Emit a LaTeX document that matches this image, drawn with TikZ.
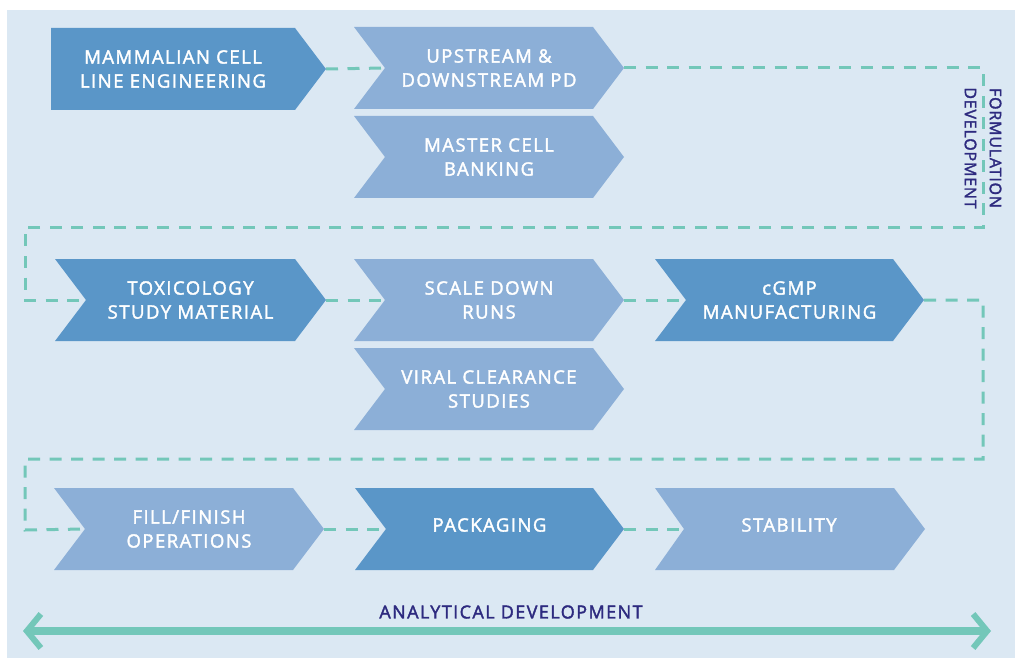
\documentclass[tikz,border=0pt]{standalone}
\usepackage{fontspec}
\setmainfont{Open Sans}
\newfontfamily\boxfont{Open Sans}[LetterSpace=8, FakeBold=2]
\newfontfamily\sidefont{Open Sans}[LetterSpace=5, FakeBold=2]
\usetikzlibrary{calc,arrows.meta}
\definecolor{bgblue}{HTML}{DBE8F3}
\definecolor{darkbox}{HTML}{5A96C8}
\definecolor{lightbox}{HTML}{8CAFD7}
\definecolor{teal}{HTML}{73C7B9}
\definecolor{indigo}{HTML}{2D2A7F}
\tikzset{
  darkfill/.style={fill=darkbox},
  lightfill/.style={fill=lightbox},
  boxtext/.style={text=white, align=center, inner sep=0pt, font=\boxfont\fontsize{18.5}{24}\selectfont},
  oneline/.style={yshift=4pt},
  twoline/.style={},
  labeltext/.style={text=indigo, align=center, inner sep=0pt, font=\boxfont\fontsize{18}{25}\selectfont},
  sidetext/.style={text=indigo, align=center, inner sep=0pt, font=\sidefont\fontsize{16}{25}\selectfont},
  flow/.style={draw=teal, line width=3pt, dash pattern=on 12pt off 9.5pt},
  bigarrow/.style={draw=teal, line width=8pt, {Straight Barb[length=14pt,width=34pt,line width=6pt]}-{Straight Barb[length=14pt,width=34pt,line width=6pt]}}
}
\newcommand\chevbox[8]{%
  \fill[#6] (#2,#3) -- ++(#5,0) -- ++(31,41) -- ++(-31,41) -- ++(-#5,0) -- ++(#4,-41) -- cycle;
  \coordinate (#1-tip) at ($(#2,#3)+(#5+31,41)$);
  \coordinate (#1-notch) at ($(#2,#3)+(#4,41)$);
  \node[boxtext,#8] (#1) at ($(#2,#3)+({(#4+#5)/2},41)$) {#7};
}
\begin{document}
\begin{tikzpicture}[x=1pt,y=-1pt]
\useasboundingbox (0,0) rectangle (1021,658);
\fill[bgblue] (7,10) rectangle (1015,658);

% boxes
\chevbox{mam}{51}{28}{0}{244}{darkfill}{MAMMALIAN CELL\\LINE ENGINEERING}{twoline}
\chevbox{ups}{354}{27}{31}{239}{lightfill}{UPSTREAM \&\\DOWNSTREAM PD}{twoline}
\chevbox{mcb}{354}{116}{31}{239}{lightfill}{MASTER CELL\\BANKING}{twoline}
\chevbox{tox}{55}{259}{31}{240}{darkfill}{TOXICOLOGY\\STUDY MATERIAL}{twoline}
\chevbox{sdr}{354}{259}{31}{239}{lightfill}{SCALE DOWN\\RUNS}{twoline}
\chevbox{vcs}{354}{348}{31}{239}{lightfill}{VIRAL CLEARANCE\\STUDIES}{twoline}
\chevbox{cgmp}{655}{259}{31}{238}{darkfill}{cGMP\\MANUFACTURING}{twoline}
\chevbox{fill}{54}{488}{31}{239}{lightfill}{FILL/FINISH\\OPERATIONS}{twoline}
\chevbox{pkg}{355}{488}{31}{238}{darkfill}{PACKAGING}{oneline}
\chevbox{stab}{655}{488}{29}{239}{lightfill}{STABILITY}{oneline}

% corner coordinates for the dashed route
\coordinate (r1) at (983,68);
\coordinate (r2) at (983,228);
\coordinate (r3) at (25,228);
\coordinate (r4) at (25,300);
\coordinate (s1) at (983,300);
\coordinate (s2) at (983,459);
\coordinate (s3) at (25,459);
\coordinate (s4) at (25,530);

% dashed flow
\draw[flow] (mam-tip) -- (ups-notch);
\draw[flow] (ups-tip) -- (r1) -- (r2) -- (r3) -- (r4) -- (tox-notch);
\draw[flow] (tox-tip) -- (sdr-notch);
\draw[flow] (sdr-tip) -- (cgmp-notch);
\draw[flow] (cgmp-tip) -- (s1) -- (s2) -- (s3) -- (s4) -- (fill-notch);
\draw[flow] (fill-tip) -- (pkg-notch);
\draw[flow] (pkg-tip) -- (stab-notch);

% side label
\node[sidetext, rotate=-90] (form) at (983,148) {FORMULATION\\DEVELOPMENT};

% analytical development
\node[labeltext] (anal) at (511,612) {ANALYTICAL DEVELOPMENT};
\coordinate (adL) at (23,631);
\coordinate (adR) at (991,631);
\draw[bigarrow] (adL) -- (adR);
\end{tikzpicture}
\end{document}
